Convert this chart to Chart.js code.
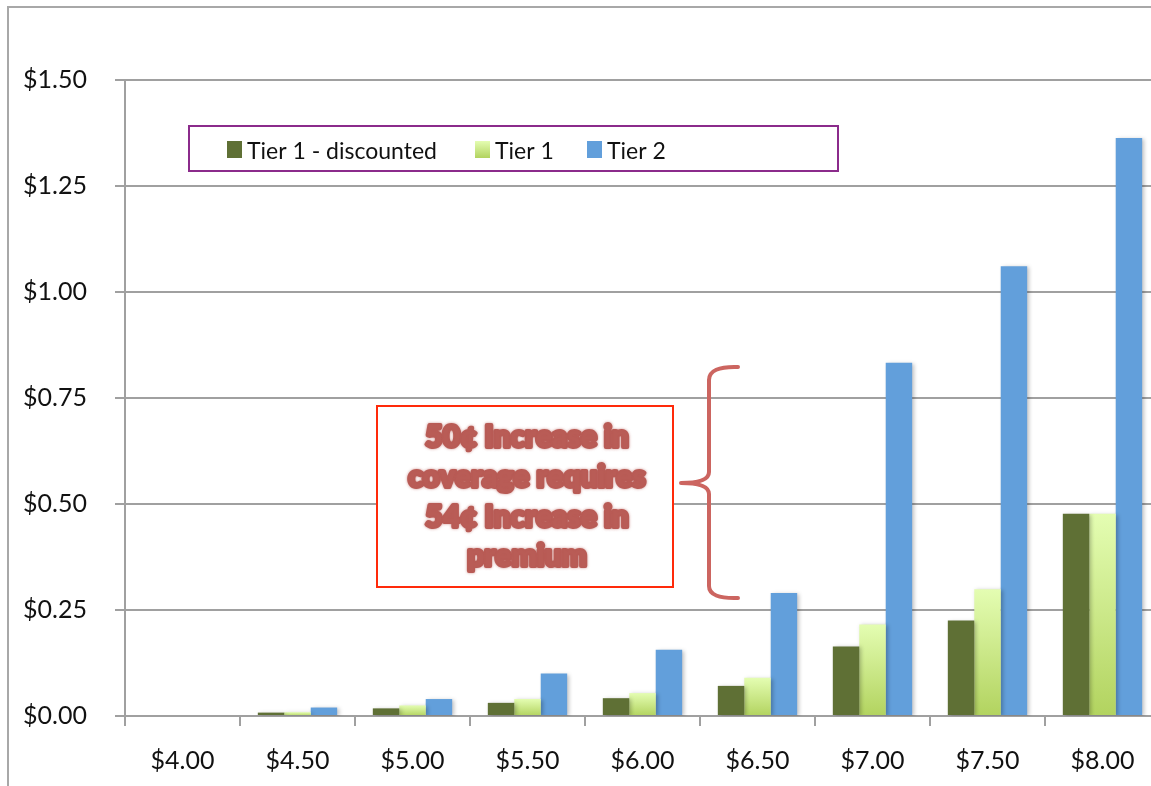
<!DOCTYPE html>
<html>
<head>
<meta charset="utf-8">
<script src="https://cdn.jsdelivr.net/npm/chart.js@4/dist/chart.umd.min.js"></script>
<style>
  html, body { margin: 0; padding: 0; background: #fff; overflow: hidden; }
  #wrap { position: absolute; left: 0; top: 0; width: 1165px; height: 786px; }
</style>
</head>
<body>
<div id="wrap"><canvas id="bars" width="1165" height="786"></canvas></div>
<script>
var categories = ['$4.00', '$4.50', '$5.00', '$5.50', '$6.00', '$6.50', '$7.00', '$7.50', '$8.00'];
var tier1Discounted = [0, 0.008, 0.018, 0.031, 0.042, 0.071, 0.164, 0.225, 0.477];
var tier1 = [0, 0.009, 0.025, 0.040, 0.054, 0.090, 0.216, 0.299, 0.477];
var tier2 = [0, 0.020, 0.040, 0.100, 0.156, 0.290, 0.833, 1.061, 1.363];
var seriesNames = ['Tier 1 - discounted', 'Tier 1', 'Tier 2'];
var noteLines = ['50¢ Increase in', 'coverage requires', '54¢ Increase in', 'premium'];

var FONT = 'Lato, "Open Sans", sans-serif';

// light-to-darker green per bar
function tier1Fill(context) {
  var chart = context.chart;
  if (!chart.chartArea || !chart.scales.y) return '#c8e389';
  var v = context.raw || 0;
  var top = chart.scales.y.getPixelForValue(v);
  var base = chart.scales.y.getPixelForValue(0);
  if (base - top < 1) return '#c8e389';
  var g = chart.ctx.createLinearGradient(0, top, 0, base);
  g.addColorStop(0, '#e4fdb2');
  g.addColorStop(1, '#b2d35f');
  return g;
}

var legendColors = ['#5f7035', '#cbe78c', '#629fdb'];

var frame = {
  id: 'frame',
  beforeDraw: function (chart) {
    var c = chart.ctx;
    c.save();
    c.strokeStyle = '#a8a8a8';
    c.lineWidth = 2;
    c.beginPath();
    c.moveTo(8, 786);
    c.lineTo(8, 7);
    c.lineTo(chart.width, 7);
    c.stroke();
    c.restore();
  }
};

var barShadow = {
  id: 'barShadow',
  beforeDatasetsDraw: function (chart) {
    var c = chart.ctx;
    c.save();
    c.shadowColor = 'rgba(0,0,0,0.25)';
    c.shadowBlur = 4;
    c.shadowOffsetX = 2;
    c.shadowOffsetY = 1;
  },
  afterDatasetsDraw: function (chart) {
    chart.ctx.restore();
  }
};

var boxLegend = {
  id: 'boxLegend',
  afterDraw: function (chart) {
    var c = chart.ctx;
    c.save();
    c.fillStyle = '#fff';
    c.fillRect(189, 126, 649, 45);
    c.strokeStyle = '#8b2b8b';
    c.lineWidth = 2;
    c.strokeRect(189, 126, 649, 45);
    var xs = [227, 475, 587];
    c.font = '23px ' + FONT;
    c.textBaseline = 'middle';
    c.textAlign = 'left';
    chart.data.datasets.forEach(function (ds, i) {
      if (i === 1) {
        var g = c.createLinearGradient(0, 141, 0, 158);
        g.addColorStop(0, '#e4fdb2');
        g.addColorStop(1, '#b2d35f');
        c.fillStyle = g;
      } else {
        c.fillStyle = legendColors[i];
      }
      c.fillRect(xs[i], 141, 15, 17);
      c.fillStyle = '#111';
      c.fillText(ds.label, xs[i] + 20, 152);
    });
    c.restore();
  }
};

var note = {
  id: 'note',
  afterDraw: function (chart) {
    var c = chart.ctx;
    c.save();
    c.fillStyle = '#fff';
    c.fillRect(377, 406, 296, 181);
    c.strokeStyle = '#ff2a0a';
    c.lineWidth = 2;
    c.strokeRect(377, 406, 296, 181);

    c.font = '900 30px ' + FONT;
    c.textAlign = 'center';
    c.textBaseline = 'middle';
    c.fillStyle = '#b95c56';
    c.strokeStyle = '#b95c56';
    c.lineWidth = 4;
    c.lineJoin = 'round';
    c.shadowColor = 'rgba(185,92,86,0.6)';
    c.shadowBlur = 3;
    var ys = [437, 477, 517, 556];
    noteLines.forEach(function (t, i) {
      c.strokeText(t, 527, ys[i]);
      c.fillText(t, 527, ys[i]);
    });
    c.shadowBlur = 0;

    // curly brace
    c.strokeStyle = '#cc6560';
    c.lineWidth = 4;
    c.lineCap = 'round';
    c.beginPath();
    c.moveTo(738, 367);
    c.quadraticCurveTo(709, 366, 709, 380);
    c.lineTo(709, 472);
    c.quadraticCurveTo(709, 483, 681, 483);
    c.quadraticCurveTo(709, 483, 709, 494);
    c.lineTo(709, 586);
    c.quadraticCurveTo(709, 599, 738, 598);
    c.stroke();
    c.restore();
  }
};

new Chart(document.getElementById('bars').getContext('2d'), {
  type: 'bar',
  data: {
    labels: categories,
    datasets: [
      { label: seriesNames[0], data: tier1Discounted, backgroundColor: '#5f7035' },
      { label: seriesNames[1], data: tier1, backgroundColor: tier1Fill },
      { label: seriesNames[2], data: tier2, backgroundColor: '#629fdb' }
    ]
  },
  options: {
    responsive: false,
    animation: false,
    layout: { padding: { top: 80, right: 5, left: 0, bottom: 0 } },
    datasets: {
      bar: { categoryPercentage: 0.69, barPercentage: 1.0, borderWidth: 0 }
    },
    plugins: {
      legend: { display: false },
      tooltip: { enabled: false }
    },
    scales: {
      x: {
        grid: {
          offset: true,
          drawOnChartArea: false,
          tickLength: 10,
          color: '#a0a0a0',
          lineWidth: 2
        },
        border: { color: '#a0a0a0', width: 2 },
        ticks: {
          color: '#111',
          font: { family: FONT, size: 25 },
          padding: 20
        },
        afterFit: function (s) { s.height = 70; }
      },
      y: {
        min: 0,
        max: 1.5,
        grid: {
          color: '#a0a0a0',
          lineWidth: 2,
          tickLength: 10
        },
        border: { color: '#a0a0a0', width: 2 },
        ticks: {
          stepSize: 0.25,
          color: '#111',
          font: { family: FONT, size: 25 },
          padding: 28,
          callback: function (v) { return '$' + Number(v).toFixed(2); }
        },
        afterFit: function (s) { s.width = 125; }
      }
    }
  },
  plugins: [frame, barShadow, boxLegend, note]
});
</script>
</body>
</html>
